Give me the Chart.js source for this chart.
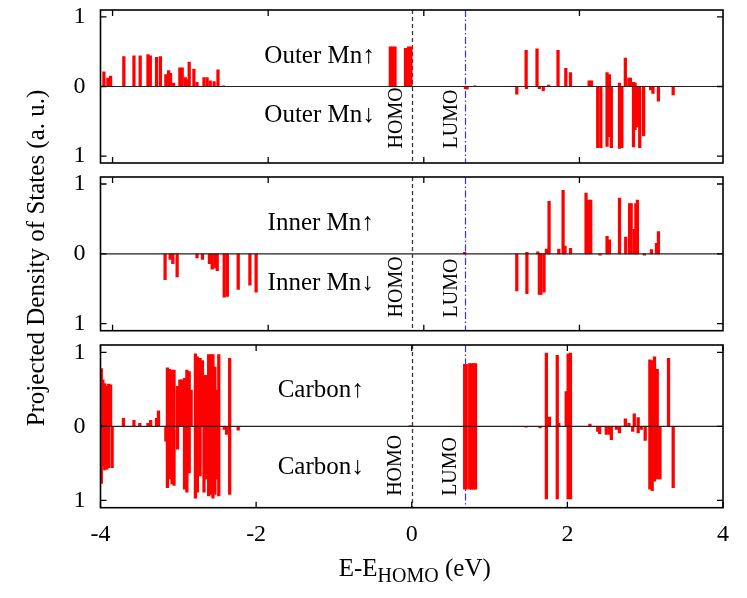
<!DOCTYPE html>
<html><head><meta charset="utf-8">
<script src="https://cdn.jsdelivr.net/npm/chart.js@4.4.1/dist/chart.umd.min.js"></script>
<style>
html,body{margin:0;padding:0;background:#fff;}
#wrap{position:relative;width:747px;height:598px;overflow:hidden;background:#fff;}
canvas{position:absolute;left:0;}
</style></head><body>
<div id="wrap">
<canvas id="c3" width="747" height="598" style="top:0;width:747px;height:598px"></canvas>
<canvas id="c1" width="747" height="170" style="top:0;width:747px;height:170px"></canvas>
<canvas id="c2" width="747" height="168" style="top:170px;width:747px;height:168px"></canvas>
</div>
<script>
// ---------- data (energy E - E_HOMO in eV, projected DOS in a.u.) ----------
const xTickValues = [-4, -2, 0, 2, 4];
const yTickValues = [-1, 0, 1];
const HOMO_E = 0;
const LUMO_E = 0.69;

const outerUpE = [-3.956,-3.905,-3.87,-3.70,-3.57,-3.49,-3.39,-3.36,-3.28,-3.23,-3.16,-3.125,-3.10,-3.06,-2.98,-2.95,-2.91,-2.89,-2.86,-2.80,-2.76,-2.67,-2.63,-2.59,-2.54,-2.49,-2.42,
  -0.275,-0.245,-0.215,-0.08,-0.04,-0.01,0.81,1.47,1.61,1.76,1.88,1.98,2.04,2.28,2.31,2.51,2.54,2.67,2.745,2.79,2.81,2.85,2.87];
const outerUpV = [0.21,0.12,0.15,0.43,0.44,0.44,0.46,0.44,0.42,0.43,0.17,0.23,0.19,0.05,0.27,0.27,0.13,0.10,0.35,0.25,0.06,0.13,0.13,0.08,0.07,0.24,0.01,
  0.57,0.57,0.57,0.55,0.57,0.57,0.01,0.52,0.54,0.02,0.52,0.26,0.20,0.08,0.08,0.20,0.17,0.05,0.41,0.12,0.12,0.06,0.05];
const outerDnE = [0.69,0.71,1.35,1.475,1.64,1.69,2.39,2.43,2.51,2.54,2.565,2.67,2.70,2.85,2.87,2.90,2.93,2.98,3.07,3.10,3.17,3.36];
const outerDnV = [-0.03,-0.04,-0.11,-0.03,-0.03,-0.06,-0.88,-0.88,-0.86,-0.72,-0.88,-0.89,-0.88,-0.87,-0.62,-0.58,-0.88,-0.71,-0.05,-0.10,-0.21,-0.12];

const innerUpE = [0.68,1.48,1.62,1.73,1.765,1.89,1.945,1.97,2.04,2.24,2.27,2.30,2.51,2.54,2.67,2.75,2.80,2.82,2.86,2.88,2.90,3.08,3.145,3.17];
const innerUpV = [0.02,0.02,0.03,0.07,0.75,0.07,0.91,0.11,0.08,0.87,0.77,0.77,0.25,0.20,0.80,0.24,0.72,0.72,0.35,0.72,0.77,0.06,0.15,0.32];
const innerDnE = [-3.17,-3.105,-3.07,-3.015,-2.76,-2.69,-2.60,-2.565,-2.53,-2.50,-2.41,-2.37,-2.23,-2.08,-2.00,1.35,1.48,1.64,1.66,1.70,2.42,2.99];
const innerDnV = [-0.37,-0.08,-0.14,-0.33,-0.06,-0.08,-0.14,-0.22,-0.20,-0.24,-0.62,-0.61,-0.51,-0.45,-0.55,-0.53,-0.57,-0.58,-0.58,-0.55,-0.02,-0.02];

const carbonUpE = [-3.99,-3.97,-3.945,-3.92,-3.895,-3.87,-3.705,-3.57,-3.495,-3.39,-3.355,-3.28,-3.255,-3.14,-3.115,-3.08,-3.055,-3.01,-2.98,-2.95,-2.92,-2.89,-2.86,-2.835,-2.78,-2.755,-2.72,-2.69,-2.67,-2.64,-2.61,-2.58,-2.555,-2.53,-2.505,-2.48,-2.34,-0.02,
  0.68,0.70,0.745,0.77,0.795,0.82,1.73,1.77,1.87,1.89,1.985,2.01,2.04,2.29,2.745,2.79,2.86,2.91,3.06,3.09,3.12,3.155,3.30];
const carbonUpV = [0.78,0.63,0.58,0.54,0.57,0.56,0.11,0.08,0.04,0.04,0.08,0.11,0.21,0.79,0.77,0.76,0.76,0.54,0.63,0.63,0.65,0.76,0.74,0.49,0.98,0.94,0.92,0.89,0.69,0.69,0.97,0.97,0.97,0.80,0.49,0.97,0.92,0.01,
  0.84,0.84,0.85,0.85,0.85,0.85,0.99,0.125,0.96,0.04,0.47,0.98,0.99,0.03,0.10,0.04,0.17,0.12,0.90,0.89,0.94,0.77,0.92];
const carbonDnE = [-3.99,-3.97,-3.945,-3.92,-3.895,-3.85,-3.16,-3.14,-3.115,-3.08,-3.055,-3.01,-2.92,-2.89,-2.86,-2.78,-2.755,-2.72,-2.67,-2.64,-2.61,-2.58,-2.555,-2.53,-2.505,-2.48,-2.41,-2.38,-2.34,-2.23,
  0.68,0.70,0.745,0.77,0.795,0.82,1.47,1.65,1.73,1.87,2.01,2.04,2.39,2.415,2.50,2.54,2.565,2.63,2.67,2.84,2.91,2.95,3.00,3.06,3.09,3.12,3.155,3.19,3.36];
const carbonDnV = [-0.77,-0.54,-0.59,-0.58,-0.56,-0.56,-0.20,-0.83,-0.71,-0.78,-0.80,-0.31,-0.85,-0.89,-0.63,-0.97,-0.89,-0.67,-0.89,-0.71,-0.94,-0.92,-0.97,-0.92,-0.71,-0.94,-0.04,-0.11,-0.92,-0.05,
  -0.85,-0.85,-0.85,-0.85,-0.85,-0.85,-0.01,-0.02,-0.98,-0.98,-0.98,-0.98,-0.07,-0.10,-0.11,-0.11,-0.18,-0.04,-0.09,-0.07,-0.09,-0.04,-0.19,-0.85,-0.87,-0.74,-0.71,-0.71,-0.83];

// ---------- styling ----------
const SERIF = "'Liberation Serif', 'DejaVu Serif', serif";
const RED = 'rgb(255,0,0)';

function zip(es, vs) { return es.map((e, i) => ({ x: e, y: vs[i] })); }

const decor = {
  id: 'panelDecor',
  beforeDatasetsDraw(chart, args, p) {
    const { ctx, chartArea: a, scales: { x } } = chart;
    ctx.save();
    ctx.beginPath(); ctx.rect(a.left, a.top, a.right - a.left, a.bottom - a.top); ctx.clip();
    const hx = Math.round(x.getPixelForValue(HOMO_E)) + 0.5;
    ctx.strokeStyle = '#3a3a3a'; ctx.lineWidth = 1.3; ctx.setLineDash([4, 3]);
    ctx.beginPath(); ctx.moveTo(hx, a.top); ctx.lineTo(hx, a.bottom); ctx.stroke();
    const lx = Math.round(x.getPixelForValue(LUMO_E)) + 0.5;
    ctx.strokeStyle = 'rgb(50,50,255)'; ctx.lineWidth = 1.2; ctx.setLineDash([7, 2.5, 1.5, 2.5]);
    ctx.beginPath(); ctx.moveTo(lx, a.top); ctx.lineTo(lx, a.bottom); ctx.stroke();
    ctx.restore();
  },
  afterDatasetsDraw(chart, args, p) {
    const { ctx, chartArea: a, scales: { x, y } } = chart;
    ctx.save();
    // zero line
    const y0 = y.getPixelForValue(0);
    ctx.strokeStyle = '#222'; ctx.lineWidth = 1.2;
    ctx.beginPath(); ctx.moveTo(a.left, y0); ctx.lineTo(a.right, y0); ctx.stroke();
    // inward ticks
    const TL = 6;
    ctx.strokeStyle = '#000'; ctx.lineWidth = 1.3;
    ctx.beginPath();
    yTickValues.forEach(v => {
      const py = y.getPixelForValue(v);
      ctx.moveTo(a.left, py); ctx.lineTo(a.left + TL, py);
      ctx.moveTo(a.right, py); ctx.lineTo(a.right - TL, py);
    });
    xTickValues.forEach(v => {
      const val = v + p.tickShift;
      if (val < -4 || val > 4) return;
      const px = x.getPixelForValue(val);
      ctx.moveTo(px, a.top); ctx.lineTo(px, a.top + TL);
      ctx.moveTo(px, a.bottom); ctx.lineTo(px, a.bottom - TL);
    });
    ctx.stroke();
    // frame
    ctx.lineWidth = 1.6; ctx.strokeStyle = '#000';
    ctx.strokeRect(a.left, a.top, a.right - a.left, a.bottom - a.top);
    // panel labels
    ctx.fillStyle = '#000';
    ctx.font = '25px ' + SERIF;
    ctx.textAlign = 'center'; ctx.textBaseline = 'alphabetic';
    ctx.fillText(p.upLabel, x.getPixelForValue(p.labelE), y.getPixelForValue(p.upY));
    ctx.fillText(p.dnLabel, x.getPixelForValue(p.labelE), y.getPixelForValue(p.dnY));
    // HOMO / LUMO vertical labels
    ctx.font = '20px ' + SERIF;
    ctx.textAlign = 'left'; ctx.textBaseline = 'middle';
    [['HOMO', p.homoE], ['LUMO', p.lumoE]].forEach(([t, e]) => {
      ctx.save();
      ctx.translate(x.getPixelForValue(e), y.getPixelForValue(p.vStart));
      ctx.rotate(-Math.PI / 2);
      ctx.fillText(t, 0, 0);
      ctx.restore();
    });
    // axis titles (drawn by the bottom panel)
    if (p.titles) {
      ctx.font = '25px ' + SERIF;
      ctx.textAlign = 'center'; ctx.textBaseline = 'middle';
      ctx.save();
      ctx.translate(37, 258);
      ctx.rotate(-Math.PI / 2);
      ctx.fillText('Projected Density of States (a. u.)', 0, 0);
      ctx.restore();
      // E-E_HOMO (eV)
      ctx.textAlign = 'left'; ctx.textBaseline = 'alphabetic';
      const main = '25px ' + SERIF, sub = '20px ' + SERIF;
      ctx.font = main; const w1 = ctx.measureText('E-E').width;
      ctx.font = sub; const w2 = ctx.measureText('HOMO').width;
      ctx.font = main; const w3 = ctx.measureText(' (eV)').width;
      let sx = x.getPixelForValue(0) + 3 - (w1 + w2 + w3) / 2;
      const by = 576;
      ctx.font = main; ctx.fillText('E-E', sx, by); sx += w1;
      ctx.font = sub; ctx.fillText('HOMO', sx, by + 6); sx += w2;
      ctx.font = main; ctx.fillText(' (eV)', sx, by);
    }
    ctx.restore();
  }
};

function makePanel(id, p) {
  const ds = (label, es, vs) => ({
    label, data: zip(es, vs), backgroundColor: RED, borderColor: RED, borderWidth: 0,
    barThickness: 2.6, grouped: false
  });
  return new Chart(document.getElementById(id), {
    type: 'bar',
    data: { datasets: [ds(p.name + ' spin up', p.upE, p.upV), ds(p.name + ' spin down', p.dnE, p.dnV)] },
    options: {
      responsive: false, animation: false, devicePixelRatio: 1,
      layout: { padding: { top: p.padTop, bottom: p.padBottom, left: 0, right: 24 } },
      plugins: { legend: { display: false }, tooltip: { enabled: false }, colors: { enabled: false }, panelDecor: p.decor },
      scales: {
        x: {
          type: 'linear', min: -4, max: 4, offset: false, display: p.showX,
          grid: { display: false, drawTicks: false, offset: false }, border: { display: false },
          afterBuildTicks: s => { s.ticks = xTickValues.map(v => ({ value: v })); },
          ticks: { padding: 13, color: '#000', maxRotation: 0, font: { family: SERIF, size: 24 } },
          afterFit: s => { s.height = p.xAxisH; s.paddingLeft = 0; s.paddingRight = 0; }
        },
        y: {
          min: -1.1, max: 1.1,
          grid: { display: false, drawTicks: false }, border: { display: false },
          afterBuildTicks: s => { s.ticks = yTickValues.map(v => ({ value: v })); },
          ticks: { padding: 15, color: '#000', font: { family: SERIF, size: 24 }, callback: v => String(Math.abs(v)) },
          afterFit: s => { s.width = 100.5; s.paddingTop = 0; s.paddingBottom = 0; }
        }
      }
    },
    plugins: [decor]
  });
}

makePanel('c3', {
  name: 'Carbon', upE: carbonUpE, upV: carbonUpV, dnE: carbonDnE, dnV: carbonDnV,
  padTop: 345, padBottom: 0, showX: true, xAxisH: 90.3,
  decor: { tickShift: 0, upLabel: 'Carbon\u2191', dnLabel: 'Carbon\u2193', labelE: -1.17, upY: 0.40, dnY: -0.65,
           homoE: -0.2, lumoE: 0.50, vStart: -0.94, titles: true }
});
makePanel('c1', {
  name: 'Outer Mn', upE: outerUpE, upV: outerUpV, dnE: outerDnE, dnV: outerDnV,
  padTop: 10, padBottom: 7, showX: false, xAxisH: 0,
  decor: { tickShift: 0.155, upLabel: 'Outer Mn\u2191', dnLabel: 'Outer Mn\u2193', labelE: -1.185, upY: 0.343, dnY: -0.51,
           homoE: -0.19, lumoE: 0.515, vStart: -0.89, titles: false }
});
makePanel('c2', {
  name: 'Inner Mn', upE: innerUpE, upV: innerUpV, dnE: innerDnE, dnV: innerDnV,
  padTop: 7, padBottom: 7.3, showX: false, xAxisH: 0,
  decor: { tickShift: 0.155, upLabel: 'Inner Mn\u2191', dnLabel: 'Inner Mn\u2193', labelE: -1.17, upY: 0.348, dnY: -0.52,
           homoE: -0.19, lumoE: 0.515, vStart: -0.91, titles: false }
});
</script>
</body></html>
